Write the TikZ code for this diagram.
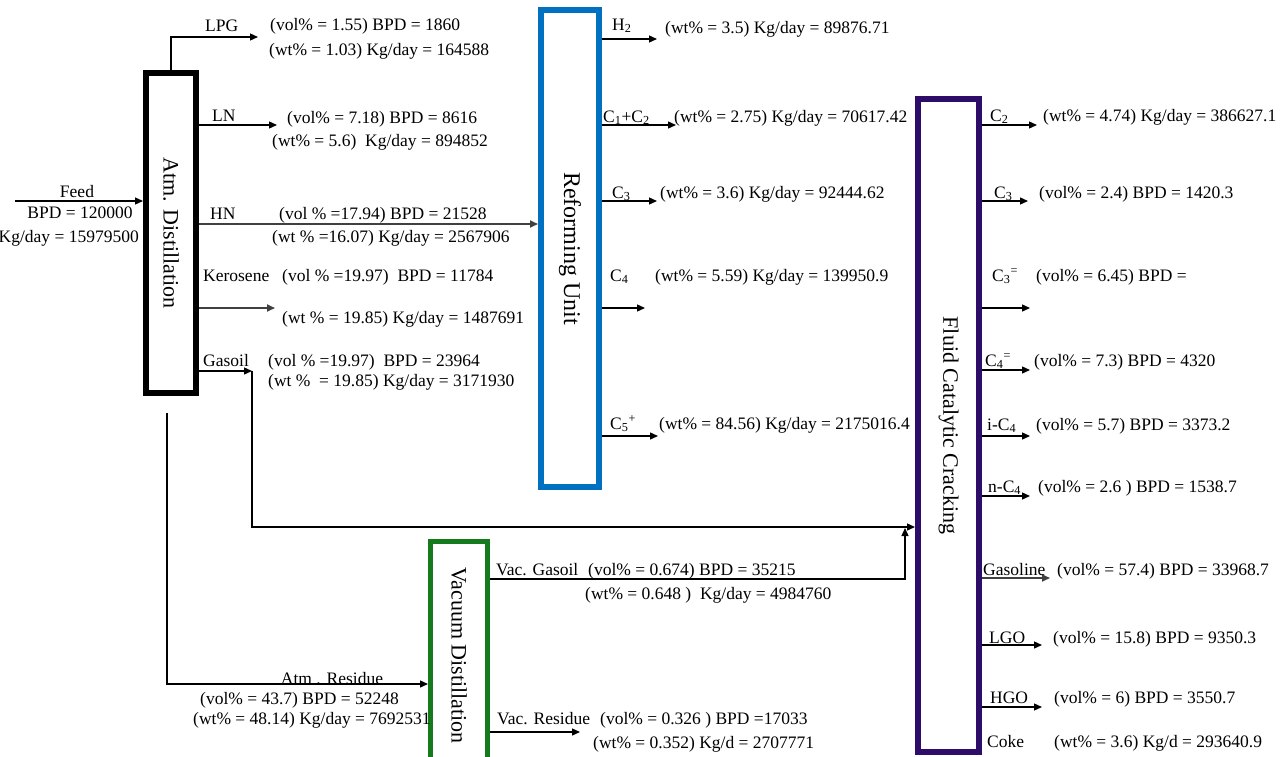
\documentclass[tikz,border=0pt]{standalone}
\usepackage{fontspec}
\setmainfont{Liberation Serif}
\usetikzlibrary{arrows.meta, positioning, calc}
\definecolor{atmcolor}{HTML}{000000}
\definecolor{refcolor}{HTML}{0070C0}
\definecolor{fcccolor}{HTML}{2E0C6A}
\definecolor{vaccolor}{HTML}{157A1C}

\newcommand{\chem}[2]{C\textsubscript{#1}\textsuperscript{#2}}

\begin{document}
\begin{tikzpicture}[x=1pt, y=-1pt,
    every node/.style={font=\fontsize{17.5}{20}\selectfont, inner sep=0pt},
    unitbox/.style={
        rectangle, fill=white, inner sep=0pt,
        line width=6pt,
    },
    unitname/.style={
        rotate=-90, font=\fontsize{22}{24}\selectfont,
    },
    stream/.style={
        draw=black, line width=1.3pt,
        -{Triangle[length=8pt, width=7pt]},
    },
    tag/.style={anchor=base west},
    flow/.style={anchor=base west},
]
\useasboundingbox (0,0) rectangle (1286,756);
\fill[white] (0,0) rectangle (1286,756);

% ── Units ──────────────────────────────────────────────────────────────
\node[unitbox, draw=atmcolor, minimum width=50pt, minimum height=320pt] (atm) at (171,233) {};
\node[unitname] at (atm.center) {Atm. Distillation};

\node[unitbox, draw=refcolor, minimum width=58pt, minimum height=477pt] (ref) at (570,248.5) {};
\node[unitname, font=\fontsize{24}{26}\selectfont] at (ref.center) {Reforming Unit};

\node[unitbox, draw=fcccolor, minimum width=61pt, minimum height=653pt] (fcc) at (948.5,425.5) {};
\node[unitname] at (fcc.center) {Fluid Catalytic Cracking};

\node[unitbox, draw=vaccolor, line width=5pt, minimum width=57pt, minimum height=228pt] (vac) at (459,655.5) {};
\node[unitname] at (vac.center) {Vacuum Distillation};

% ── Feed ───────────────────────────────────────────────────────────────
\coordinate (feedin) at (15,201);
\draw[stream] (feedin) -- (feedin -| atm.west);
\node[anchor=base] (feed) at (77,197) {Feed};
\node[anchor=base] (feedbpd) at (80,218) {BPD = 120000};
\node[anchor=base east] (feedkg) at (139,242) {Kg/day = 15979500};

% ── Atm. Distillation products ─────────────────────────────────────────
\coordinate (lpgend) at (258,37);
\draw[stream] (atm.north) |- (lpgend);
\node[tag] (lpg) at (205,31) {LPG};
\node[flow] (lpgv) at (270,30) {(vol\% = 1.55) BPD = 1860};
\node[flow] (lpgw) at (269,55) {(wt\% = 1.03) Kg/day = 164588};

\coordinate (lnend) at (277,125);
\draw[stream] (atm.east |- lnend) -- (lnend);
\node[tag] (ln) at (212,121) {LN};
\node[flow] (lnv) at (287,123) {(vol\% = 7.18) BPD = 8616};
\node[flow] (lnw) at (272,146) {(wt\% = 5.6)\ \ Kg/day = 894852};

\coordinate (hnin) at (300,224);
\draw[stream, draw=black!75, line width=1.8pt] (atm.east |- hnin) -- (ref.west |- hnin);
\node[tag] (hn) at (210,219) {HN};
\node[flow] (hnv) at (279,219) {(vol \% =17.94) BPD = 21528};
\node[flow] (hnw) at (272,242) {(wt \% =16.07) Kg/day = 2567906};

\coordinate (keroend) at (275,308);
\draw[stream, draw=black!75, line width=1.8pt] (atm.east |- keroend) -- (keroend);
\node[tag] (kero) at (203,281) {Kerosene};
\node[flow] (kerov) at (282,281) {(vol \% =19.97)\ \ BPD = 11784};
\node[flow] (kerow) at (282,323) {(wt \% = 19.85) Kg/day = 1487691};

\coordinate (gasoilend) at (252,371);
\coordinate (gasoilturn) at (252,527);
\draw[stream] (atm.east |- gasoilend) -- (gasoilend);
\draw[stream] (gasoilend) -- (gasoilturn) -- (fcc.west |- gasoilturn);
\node[tag] (gasoil) at (203,366) {Gasoil};
\node[flow] (gasoilv) at (268,366) {(vol \% =19.97)\ \ BPD = 23964};
\node[flow] (gasoilw) at (268,386) {(wt \%\ \ = 19.85) Kg/day = 3171930};

\coordinate (resstart) at (167,413);
\coordinate (resin) at (300,684);
\draw[stream] (resstart) |- (vac.west |- resin);
\node[anchor=base] (res) at (332,684) {Atm . Residue};
\node[flow] (resv) at (200,704) {(vol\% = 43.7) BPD = 52248};
\node[flow] (resw) at (193,724) {(wt\% = 48.14) Kg/day = 7692531};

% ── Vacuum Distillation products ───────────────────────────────────────
\coordinate (vgturn) at (905,579);
\draw[stream] (vac.east |- vgturn) -- (vgturn) -- ($(vgturn |- gasoilturn)+(0,1)$);
\node[tag] (vg) at (496,575) {Vac. Gasoil};
\node[flow] (vgv) at (588,575) {(vol\% = 0.674) BPD = 35215};
\node[flow] (vgw) at (585,599) {(wt\% = 0.648 )\ \ Kg/day = 4984760};

\coordinate (vrend) at (580,732);
\draw[stream] (vac.east |- vrend) -- (vrend);
\node[tag] (vr) at (497,724) {Vac. Residue};
\node[flow] (vrv) at (600,724) {(vol\% = 0.326 ) BPD =17033};
\node[flow] (vrw) at (593,748) {(wt\% = 0.352) Kg/d = 2707771};

% ── Reforming Unit products ────────────────────────────────────────────
\coordinate (h2end) at (657,39);
\draw[stream] (ref.east |- h2end) -- (h2end);
\node[tag] (h2) at (612,30) {H\textsubscript{2}};
\node[flow] (h2w) at (665,33) {(wt\% = 3.5) Kg/day = 89876.71};

\coordinate (c12end) at (676,125);
\draw[stream] (ref.east |- c12end) -- (c12end);
\node[tag] (c12) at (603,122) {C\textsubscript{1}+C\textsubscript{2}};
\node[flow] (c12w) at (674,122) {(wt\% = 2.75) Kg/day = 70617.42};

\coordinate (rc3end) at (657,201);
\draw[stream] (ref.east |- rc3end) -- (rc3end);
\node[tag] (rc3) at (612,198) {C\textsubscript{3}};
\node[flow] (rc3w) at (660,198) {(wt\% = 3.6) Kg/day = 92444.62};

\coordinate (rc4end) at (645,308);
\draw[stream] (ref.east |- rc4end) -- (rc4end);
\node[tag] (rc4) at (610,281) {C\textsubscript{4}};
\node[flow] (rc4w) at (655,281) {(wt\% = 5.59) Kg/day = 139950.9};

\coordinate (rc5end) at (658,436);
\draw[stream] (ref.east |- rc5end) -- (rc5end);
\node[tag] (rc5) at (610,429) {\chem{5}{+}};
\node[flow] (rc5w) at (659,429) {(wt\% = 84.56) Kg/day = 2175016.4};

% ── Fluid Catalytic Cracking products ──────────────────────────────────
\coordinate (fc2end) at (1037,125);
\draw[stream] (fcc.east |- fc2end) -- (fc2end);
\node[tag] (fc2) at (990,121) {C\textsubscript{2}};
\node[flow] (fc2w) at (1043,121) {(wt\% = 4.74) Kg/day = 386627.1};

\coordinate (fc3end) at (1028,201);
\draw[stream] (fcc.east |- fc3end) -- (fc3end);
\node[tag] (fc3) at (994,198) {C\textsubscript{3}};
\node[flow] (fc3v) at (1039,198) {(vol\% = 2.4) BPD = 1420.3};

\coordinate (fc3oend) at (1030,308);
\draw[stream] (fcc.east |- fc3oend) -- (fc3oend);
\node[tag] (fc3o) at (992,281) {\chem{3}{=}};
\node[flow] (fc3ov) at (1036,281) {(vol\% = 6.45) BPD =};

\coordinate (fc4oend) at (1030,370);
\draw[stream] (fcc.east |- fc4oend) -- (fc4oend);
\node[tag] (fc4o) at (985,366) {\chem{4}{=}};
\node[flow] (fc4ov) at (1034,366) {(vol\% = 7.3) BPD = 4320};

\coordinate (ic4end) at (1030,436);
\draw[stream] (fcc.east |- ic4end) -- (ic4end);
\node[tag] (ic4) at (987,430) {i-C\textsubscript{4}};
\node[flow] (ic4v) at (1036,430) {(vol\% = 5.7) BPD = 3373.2};

\coordinate (nc4end) at (1030,496);
\draw[stream] (fcc.east |- nc4end) -- (nc4end);
\node[tag] (nc4) at (988,492) {n-C\textsubscript{4}};
\node[flow] (nc4v) at (1038,492) {(vol\% = 2.6 ) BPD = 1538.7};

\coordinate (gasend) at (1050,578);
\draw[stream, draw=black!75, line width=1.8pt] (fcc.east |- gasend) -- (gasend);
\node[tag] (gas) at (983,575) {Gasoline};
\node[flow] (gasv) at (1057,575) {(vol\% = 57.4) BPD = 33968.7};

\coordinate (lgoend) at (1042,645);
\draw[stream] (fcc.east |- lgoend) -- (lgoend);
\node[tag] (lgo) at (989,643) {LGO};
\node[flow] (lgov) at (1053,643) {(vol\% = 15.8) BPD = 9350.3};

\coordinate (hgoend) at (1042,707);
\draw[stream] (fcc.east |- hgoend) -- (hgoend);
\node[tag] (hgo) at (990,703) {HGO};
\node[flow] (hgov) at (1054,703) {(vol\% = 6) BPD = 3550.7};

\node[tag] (coke) at (987,747) {Coke};
\node[flow] (cokew) at (1054,747) {(wt\% = 3.6) Kg/d = 293640.9};

\end{tikzpicture}
\end{document}
